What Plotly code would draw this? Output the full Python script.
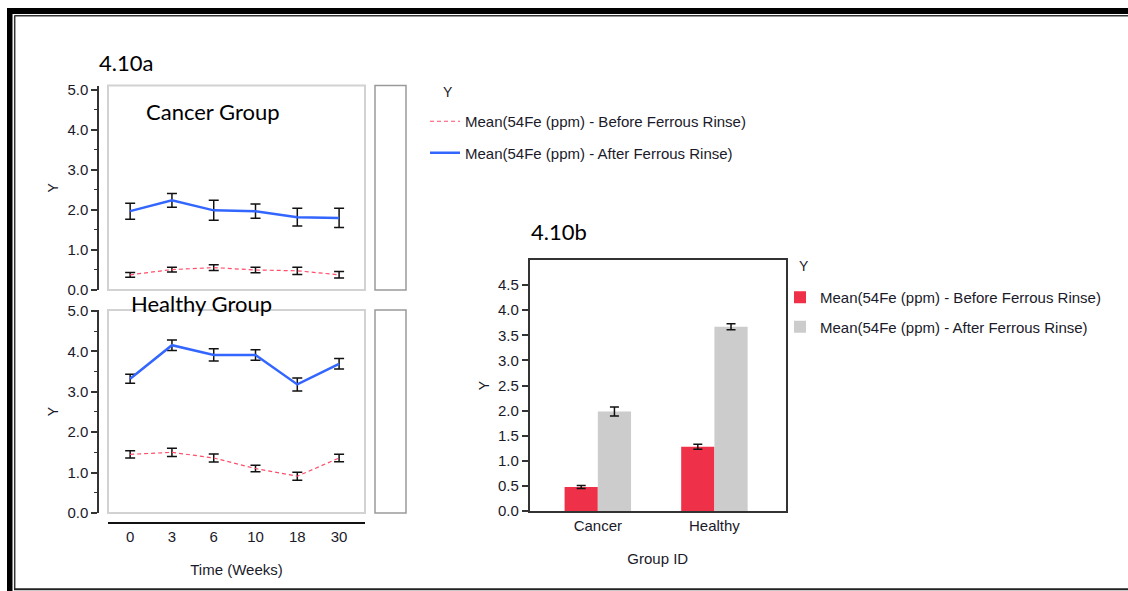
import plotly.graph_objects as go

W, H = 1128, 591

# Figure 4.10a: mean 54Fe over time, before/after ferrous rinse
weeks = ["0", "3", "6", "10", "18", "30"]
cancer_before = [0.38, 0.51, 0.56, 0.50, 0.48, 0.38]
cancer_before_err = [0.06, 0.06, 0.07, 0.07, 0.09, 0.08]
cancer_after = [1.97, 2.24, 1.99, 1.97, 1.82, 1.80]
cancer_after_err = [0.20, 0.17, 0.25, 0.18, 0.22, 0.24]
healthy_before = [1.45, 1.50, 1.36, 1.10, 0.91, 1.36]
healthy_before_err = [0.09, 0.10, 0.10, 0.08, 0.10, 0.09]
healthy_after = [3.32, 4.15, 3.91, 3.91, 3.18, 3.69]
healthy_after_err = [0.11, 0.13, 0.15, 0.13, 0.16, 0.13]

# Figure 4.10b: group means
groups = ["Cancer", "Healthy"]
before_mean = [0.48, 1.28]
before_err = [0.03, 0.05]
after_mean = [1.98, 3.67]
after_err = [0.09, 0.06]

bar_ticks = [0.0, 0.5, 1.0, 1.5, 2.0, 2.5, 3.0, 3.5, 4.0, 4.5]
line_ticks = [0.0, 1.0, 2.0, 3.0, 4.0, 5.0]

BEFORE_LABEL = "Mean(54Fe (ppm) - Before Ferrous Rinse)"
AFTER_LABEL = "Mean(54Fe (ppm) - After Ferrous Rinse)"

RED_LINE = "#FF4D6A"
BLUE_LINE = "#3366FF"
RED_BAR = "#EE3148"
GRAY_BAR = "#CCCCCC"
TXT = "#1a1a2a"
FONT = "Liberation Sans, Arial, sans-serif"
TITLE_FONT = "Lato, Carlito, Calibri, sans-serif"


def px(x):
    return x / W


def py(y):
    return 1 - y / H


fig = go.Figure()


def err(vals):
    return dict(type="data", array=vals, color="#111111", thickness=1.5, width=5)


# Cancer panel lines
fig.add_trace(go.Scatter(x=weeks, y=cancer_before, error_y=err(cancer_before_err),
                         mode="lines", line=dict(color=RED_LINE, width=1.2, dash="4px,3px"),
                         name=BEFORE_LABEL, legend="legend", legendgroup="b",
                         xaxis="x", yaxis="y"))
fig.add_trace(go.Scatter(x=weeks, y=cancer_after, error_y=err(cancer_after_err),
                         mode="lines", line=dict(color=BLUE_LINE, width=2.5),
                         name=AFTER_LABEL, legend="legend", legendgroup="a",
                         xaxis="x", yaxis="y"))
# Healthy panel lines
fig.add_trace(go.Scatter(x=weeks, y=healthy_before, error_y=err(healthy_before_err),
                         mode="lines", line=dict(color=RED_LINE, width=1.2, dash="4px,3px"),
                         showlegend=False, xaxis="x2", yaxis="y2"))
fig.add_trace(go.Scatter(x=weeks, y=healthy_after, error_y=err(healthy_after_err),
                         mode="lines", line=dict(color=BLUE_LINE, width=2.5),
                         showlegend=False, xaxis="x2", yaxis="y2"))

# Bar chart
fig.add_trace(go.Bar(x=groups, y=before_mean, marker=dict(color=RED_BAR, line=dict(width=0)),
                     error_y=dict(type="data", array=before_err, color="#111111",
                                  thickness=1.5, width=4.5),
                     name=BEFORE_LABEL, legend="legend2", legendgroup="bb",
                     xaxis="x3", yaxis="y3"))
fig.add_trace(go.Bar(x=groups, y=after_mean, marker=dict(color=GRAY_BAR, line=dict(width=0)),
                     error_y=dict(type="data", array=after_err, color="#111111",
                                  thickness=1.5, width=4.5),
                     name=AFTER_LABEL, legend="legend2", legendgroup="ba",
                     xaxis="x3", yaxis="y3"))

tickfont = dict(family=FONT, size=15, color=TXT)
cat_range = [-0.53, 5.62]
line_x_dom = [px(108), px(365)]

yaxis_common = dict(anchor="free", position=px(98), showline=True, linecolor="#333333",
                    linewidth=1.5, ticks="outside", ticklen=6, tickwidth=1.5,
                    tickcolor="#333333", tickvals=line_ticks,
                    ticktext=[f"{v:.1f}" for v in line_ticks], tickfont=tickfont,
                    showgrid=False, zeroline=False, automargin=False,
                    minor=dict(tickvals=[0.5, 1.5, 2.5, 3.5, 4.5], ticks="outside",
                               ticklen=3, tickcolor="#333333", tickwidth=1.2),
                    title=dict(text="Y", font=dict(family=FONT, size=14, color=TXT),
                               standoff=4))

fig.update_layout(
    width=W, height=H,
    margin=dict(l=0, r=0, t=0, b=0, autoexpand=False),
    paper_bgcolor="white", plot_bgcolor="rgba(0,0,0,0)",
    showlegend=True,
    barmode="group", bargap=0.43, bargroupgap=0,
    xaxis=dict(domain=line_x_dom, anchor="y", type="category", range=cat_range,
               visible=False, automargin=False),
    yaxis=dict(domain=[py(290), py(85.5)], range=[0, 5.11], **yaxis_common),
    xaxis2=dict(domain=line_x_dom, anchor="free", position=py(523), type="category",
                range=cat_range, showline=True, linecolor="#111111", linewidth=2,
                ticks="", tickfont=tickfont, showgrid=False, zeroline=False,
                automargin=False,
                title=dict(text="Time (Weeks)", font=dict(family=FONT, size=15, color=TXT),
                           standoff=19)),
    yaxis2=dict(domain=[py(513), py(310)], range=[0, 5.02], **yaxis_common),
    xaxis3=dict(domain=[px(529.5), px(786)], anchor="y3", type="category",
                range=[-0.586, 1.614], showline=True, mirror=True, linecolor="#333333",
                linewidth=1.5, ticks="", tickfont=tickfont, showgrid=False,
                automargin=False,
                title=dict(text="Group ID", font=dict(family=FONT, size=15, color=TXT),
                           standoff=21)),
    yaxis3=dict(domain=[py(511), py(260)], anchor="x3", range=[0, 5], showline=True,
                mirror=True, linecolor="#333333", linewidth=1.5, ticks="outside",
                ticklen=6, tickwidth=1.5, tickcolor="#333333", tickvals=bar_ticks,
                ticktext=[f"{v:.1f}" for v in bar_ticks], tickfont=tickfont,
                showgrid=False, zeroline=False, automargin=False,
                title=dict(text="Y", font=dict(family=FONT, size=14, color=TXT),
                           standoff=5)),
    legend=dict(x=px(425), y=py(105), xanchor="left", yanchor="top",
                font=dict(family=FONT, size=15, color=TXT), bgcolor="rgba(0,0,0,0)",
                tracegroupgap=9, traceorder="grouped", itemwidth=30),
    legend2=dict(x=px(780), y=py(281), xanchor="left", yanchor="top",
                 font=dict(family=FONT, size=15, color=TXT), bgcolor="rgba(0,0,0,0)",
                 tracegroupgap=7, traceorder="grouped", itemwidth=30),
)

shapes = []
# plot frames of the two line panels
for xr, yr in (("x domain", "y domain"), ("x2 domain", "y2 domain")):
    shapes.append(dict(type="rect", xref=xr, yref=yr, x0=0, x1=1, y0=0, y1=1,
                       line=dict(color="#D2D2D2", width=2), layer="below"))
# empty side boxes next to each line panel
for y0, y1 in ((85.5, 290), (310, 513)):
    shapes.append(dict(type="rect", xref="paper", yref="paper", x0=px(375), x1=px(406),
                       y0=py(y1), y1=py(y0), line=dict(color="#9A9A9A", width=1.5)))
# page border: heavy outer rule with a thin inner rule
shapes.append(dict(type="rect", xref="paper", yref="paper", x0=px(7), x1=px(1140),
                   y0=py(14), y1=py(8), fillcolor="black", line=dict(width=0)))
shapes.append(dict(type="rect", xref="paper", yref="paper", x0=px(7), x1=px(12.5),
                   y0=py(600), y1=py(8), fillcolor="black", line=dict(width=0)))
shapes.append(dict(type="line", xref="paper", yref="paper", x0=px(14.5), x1=px(1140),
                   y0=py(15.7), y1=py(15.7), line=dict(color="#333333", width=1.5)))
shapes.append(dict(type="line", xref="paper", yref="paper", x0=px(14.7), x1=px(14.7),
                   y0=py(589.5), y1=py(15.5), line=dict(color="#333333", width=1.5)))
shapes.append(dict(type="line", xref="paper", yref="paper", x0=px(14), x1=px(1140),
                   y0=py(589.3), y1=py(589.3), line=dict(color="#222222", width=2)))
fig.update_layout(shapes=shapes)

annots = [
    dict(text="4.10a", x=px(97), y=py(63), size=22),
    dict(text="Cancer Group", x=px(144), y=py(111), size=22),
    dict(text="Healthy Group", x=px(129), y=py(303), size=22),
    dict(text="4.10b", x=px(529), y=py(232), size=22),
]
for a in annots:
    fig.add_annotation(text=a["text"], x=a["x"], y=a["y"], xref="paper", yref="paper",
                       xanchor="left", yanchor="middle", showarrow=False,
                       font=dict(family=TITLE_FONT, size=a["size"], color="black"))
# legend headings
for x, y in ((441, 92), (797, 266)):
    fig.add_annotation(text="Y", x=px(x), y=py(y), xref="paper", yref="paper",
                       xanchor="left", yanchor="middle", showarrow=False,
                       font=dict(family=FONT, size=14, color=TXT))

fig.write_html("out.html")
